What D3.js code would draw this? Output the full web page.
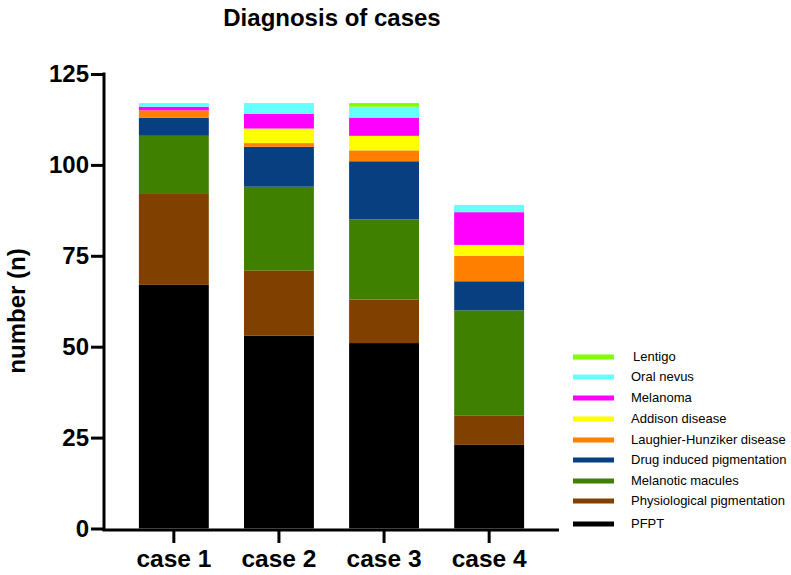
<!DOCTYPE html>
<html>
<head>
<meta charset="utf-8">
<script src="https://cdn.jsdelivr.net/npm/d3@7/dist/d3.min.js"></script>
<style>
  html, body { margin: 0; padding: 0; background: #fff; }
  svg { display: block; font-family: "Liberation Sans", Arial, sans-serif; }
</style>
</head>
<body>
<svg id="chart" width="791" height="575"></svg>
<script>
const categories = ["case 1", "case 2", "case 3", "case 4"];
const seriesNames = ["PFPT", "Physiological pigmentation", "Melanotic macules", "Drug induced pigmentation",
  "Laughier-Hunziker disease", "Addison disease", "Melanoma", "Oral nevus", "Lentigo"];
const seriesColors = ["#000000", "#804000", "#408000", "#073f80", "#ff8000", "#ffff00", "#ff00ff", "#66ffff", "#80ff00"];
const PFPT = [67, 53, 51, 23];
const physiological = [25, 18, 12, 8];
const melanoticMacules = [16, 23, 22, 29];
const drugInduced = [5, 11, 16, 8];
const laughierHunziker = [2, 1, 3, 7];
const addison = [0, 4, 4, 3];
const melanoma = [1, 4, 5, 9];
const oralNevus = [1, 3, 3, 2];
const lentigo = [0, 0, 1, 0];
const yTicks = [0, 25, 50, 75, 100, 125];

const seriesValues = [PFPT, physiological, melanoticMacules, drugInduced, laughierHunziker, addison, melanoma, oralNevus, lentigo];

const table = categories.map((c, i) => {
  const row = { category: c };
  seriesNames.forEach((s, j) => row[s] = seriesValues[j][i]);
  return row;
});

const svg = d3.select("#chart");

const x = d3.scaleBand().domain(categories).range([121.3, 541.7]).paddingInner(0.335).paddingOuter(0.1675);
const y = d3.scaleLinear().domain([0, 125]).range([528.5, 74]);

const stack = d3.stack().keys(seriesNames)(table);

const color = d3.scaleOrdinal().domain(seriesNames).range(seriesColors);

svg.append("g").selectAll("g").data(stack).join("g")
  .attr("fill", d => color(d.key))
  .selectAll("rect").data(d => d).join("rect")
  .attr("x", d => x(d.data.category))
  .attr("width", x.bandwidth())
  .attr("y", d => y(d[1]))
  .attr("height", d => y(d[0]) - y(d[1]));

// Y axis
const yAxis = svg.append("g").attr("transform", "translate(104,0)")
  .call(d3.axisLeft(y).tickValues(yTicks).tickSize(13).tickPadding(2).tickSizeOuter(0));
yAxis.select(".domain").attr("stroke-width", 3).attr("d", "M0,72.5V531");
yAxis.selectAll(".tick line").attr("stroke-width", 3);
yAxis.selectAll(".tick text").attr("font-size", 24).attr("font-weight", "bold")
  .attr("font-family", "'Liberation Sans', Arial, sans-serif").attr("fill", "#000");

// X axis
const xAxis = svg.append("g").attr("transform", "translate(0,530)")
  .call(d3.axisBottom(x).tickSize(13).tickPadding(7).tickSizeOuter(0));
xAxis.select(".domain").attr("stroke-width", 3).attr("d", "M102.5,0H559");
xAxis.selectAll(".tick line").attr("stroke-width", 3);
xAxis.selectAll(".tick text").attr("font-size", 24.5).attr("font-weight", "bold")
  .attr("font-family", "'Liberation Sans', Arial, sans-serif").attr("fill", "#000");

// Title
svg.append("text").attr("x", 332).attr("y", 26).attr("text-anchor", "middle")
  .attr("font-size", 24).attr("font-weight", "bold").text("Diagnosis of cases");

// Y title
svg.append("text").attr("transform", "translate(25,311) rotate(-90)").attr("text-anchor", "middle")
  .attr("font-size", 24).attr("font-weight", "bold").text("number (n)");

// Legend
const legendOrder = seriesNames.slice().reverse();
const legendY = [357, 377, 398, 419, 440, 460, 481, 501, 524];
const legend = svg.append("g");
legendOrder.forEach((name, i) => {
  legend.append("line").attr("x1", 573).attr("x2", 614)
    .attr("y1", legendY[i]).attr("y2", legendY[i])
    .attr("stroke", color(name)).attr("stroke-width", 5);
  legend.append("text").attr("x", name === "Lentigo" ? 633 : 631).attr("y", legendY[i] + 1)
    .attr("dominant-baseline", "middle")
    .attr("font-size", 13).attr("fill", "#000").text(name);
});
</script>
</body>
</html>
